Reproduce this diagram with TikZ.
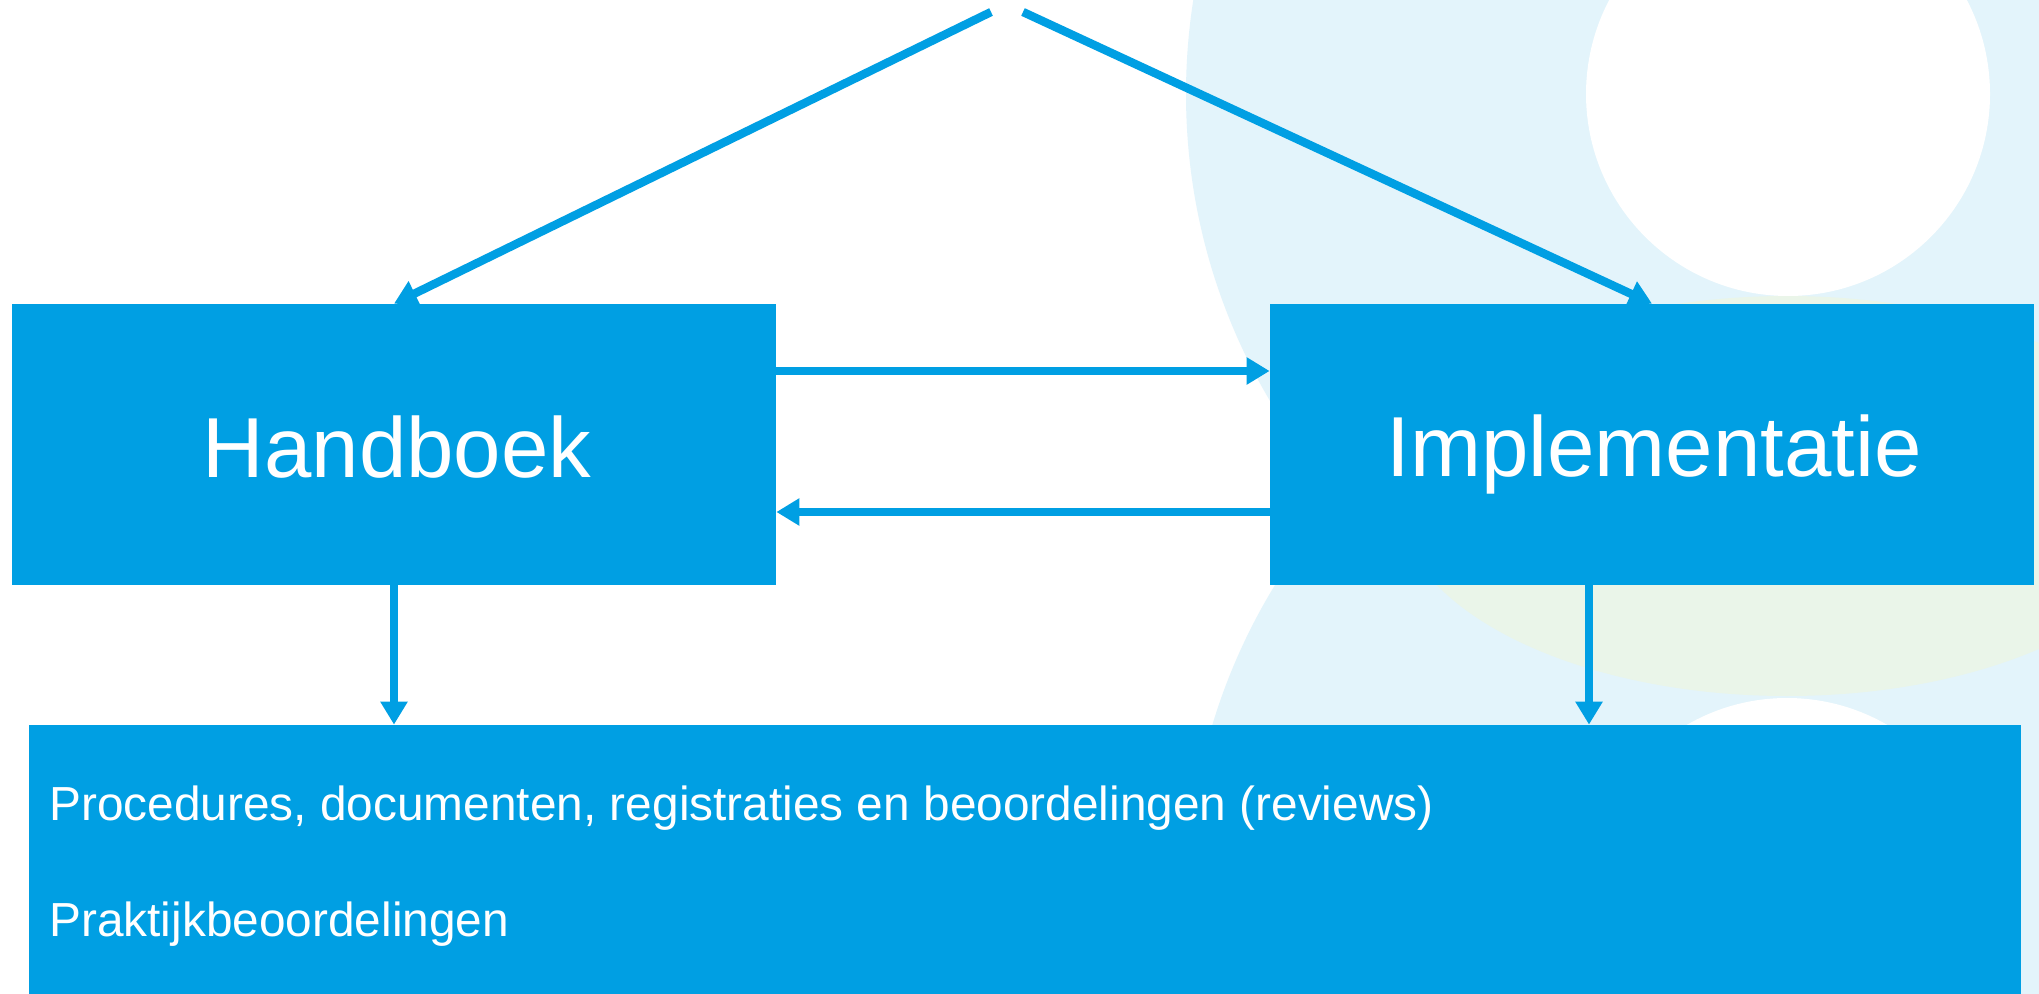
\documentclass[tikz,border=0pt]{standalone}
\usepackage{fontspec}
\setmainfont{Liberation Sans}
\usetikzlibrary{arrows.meta}
\definecolor{boxblue}{RGB}{0,159,227}
\definecolor{haloblue}{RGB}{227,244,251}
\definecolor{halogreen}{RGB}{234,245,233}
\begin{document}
\begin{tikzpicture}[x=0.5pt,y=-0.5pt,
  box/.style={fill=boxblue, draw=none, inner sep=0pt, minimum width=382pt, minimum height=140.5pt},
  bigtext/.style={text=white, font=\fontsize{42.6}{50}\selectfont, inner sep=0pt, anchor=base},
  smalltext/.style={text=white, font=\fontsize{23.9}{28}\selectfont, inner sep=0pt, anchor=base west},
  arr/.style={draw=boxblue, line width=4.2pt, -{Triangle[length=11.5pt,width=13pt]}}
]
\useasboundingbox (0,0) rectangle (2039,994);
% background decoration
\begin{scope}
  \clip (0,0) rectangle (2039,994);
  \fill[white] (0,0) rectangle (2039,994);
  \fill[haloblue] (1788,94) circle[radius=301pt];
  \fill[haloblue] (1787,898) circle[radius=300pt];
  \fill[halogreen] (1787,496) ellipse[x radius=195.5pt, y radius=100pt];
  \fill[white] (1788,94) circle[radius=101pt];
  \fill[white] (1787,898) circle[radius=100pt];
\end{scope}
% boxes
\node[box] (h) at (394,444.5) {};
\node[box] (i) at (1652,444.5) {};
\node[fill=boxblue, draw=none, inner sep=0pt, minimum width=996pt, minimum height=140pt] (b) at (1025,865) {};
% texts
\node[bigtext] (ht) at (397,477) {Handboek};
\node[bigtext] (it) at (1654,476) {Implementatie};
\node[smalltext] (t1) at (49,820) {Procedures, documenten, registraties en beoordelingen (reviews)};
\node[smalltext] (t2) at (49,936) {Praktijkbeoordelingen};
% connectors
\coordinate (s1) at (991,12);
\coordinate (s2) at (1023,12);
\coordinate (i1) at ([xshift=-31.5pt]i.south);
\draw[arr] (s1) -- (h.north);
\draw[arr] (s2) -- (i.north);
\draw[arr] ([yshift=36.75pt]h.east) -- ([yshift=36.75pt]i.west);
\draw[arr] ([yshift=-33.75pt]i.west) -- ([yshift=-33.75pt]h.east);
\draw[arr] (h.south) -- (h.south |- b.north);
\draw[arr] (i1) -- (i1 |- b.north);
\end{tikzpicture}
\end{document}
